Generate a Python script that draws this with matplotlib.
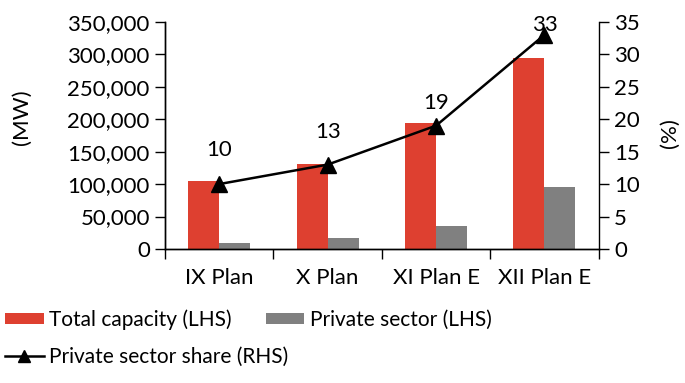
import numpy as np
import matplotlib
matplotlib.use("Agg")
from matplotlib import pyplot as plt
from matplotlib.ticker import FuncFormatter, FixedLocator

plans = ["IX Plan", "X Plan", "XI Plan E", "XII Plan E"]
total_mw = [105000, 131000, 194000, 295000]
private_mw = [9700, 17400, 35500, 96000]
private_share = [10, 13, 19, 33]

RED = "#de4030"
GREY = "#808080"

plt.rcParams['font.family'] = ['Lato', 'DejaVu Sans']

fig = plt.figure(figsize=(6.85, 3.83), dpi=100)
ax = fig.add_axes([0.241, 0.350, 0.633, 0.593])
ax2 = ax.twinx()

x = np.arange(len(plans))
w = 0.286
ax.bar(x - w / 2, total_mw, w, color=RED, label="Total capacity (LHS)")
ax.bar(x + w / 2, private_mw, w, color=GREY, label="Private sector (LHS)")

ax2.plot(x, private_share, color="black", lw=1.8, marker="^", ms=11,
         label="Private sector share (RHS)", clip_on=False)
# labels sit above the markers, Excel-style
offsets = [34, 33, 23, 10]
for xi, v, off in zip(x, private_share, offsets):
    ax2.annotate(str(v), (xi, v), xytext=(0, off * 0.72), textcoords="offset points",
                 ha="center", va="center", fontsize=16)

ax.set_xlim(-0.5, len(plans) - 0.5)
ax.set_ylim(0, 350000)
ax2.set_ylim(0, 35)
ax.set_yticks(np.arange(0, 350001, 50000))
ax2.set_yticks(np.arange(0, 36, 5))
ax.yaxis.set_major_formatter(FuncFormatter(lambda v, p: f"{int(v):,}"))

ax.set_xticks(x)
ax.set_xticklabels(plans)
ax.xaxis.set_minor_locator(FixedLocator(np.arange(-0.5, len(plans), 1.0)))
ax.tick_params(axis="x", which="major", length=0, pad=14, labelsize=16)
ax.tick_params(axis="x", which="minor", length=7, width=1, direction="out")
ax.tick_params(axis="y", length=7, width=1, direction="out", labelsize=16, pad=4)
ax2.tick_params(axis="y", length=7, width=1, direction="out", labelsize=16, pad=4)

for a in (ax, ax2):
    a.spines["top"].set_visible(False)
    for s in ("left", "right", "bottom"):
        a.spines[s].set_linewidth(1)
ax.spines["right"].set_visible(False)

# axis titles placed by their centres
fig.text(22 / 685, 1 - 117 / 383, "(MW)", fontsize=16, rotation=90,
         ha="center", va="center")
fig.text(670 / 685, 1 - 133 / 383, "(%)", fontsize=16, rotation=90,
         ha="center", va="center")

# legend flows like Excel's: two bar entries on one row, the line below
h1, l1 = ax.get_legend_handles_labels()
h2, l2 = ax2.get_legend_handles_labels()
leg_kw = dict(frameon=False, fontsize=15, handlelength=1.85, handleheight=0.45,
              handletextpad=0.25, borderpad=0, borderaxespad=0, markerscale=0.8)
fig.legend(h1, l1, loc="center left", bbox_to_anchor=(5 / 685, 1 - 320 / 383),
           ncol=2, columnspacing=1.65, **leg_kw)
fig.legend(h2, l2, loc="center left", bbox_to_anchor=(5 / 685, 1 - 357 / 383),
           **leg_kw)

fig.savefig("out.png", dpi=100)
